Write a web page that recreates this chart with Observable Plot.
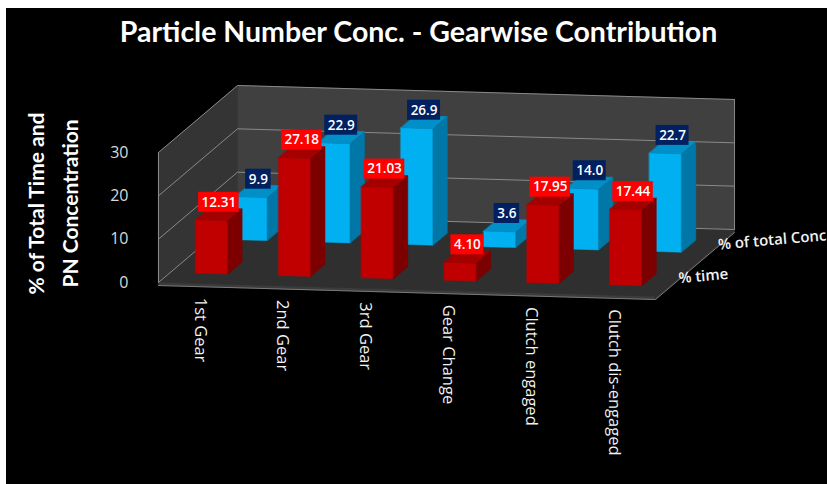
<!DOCTYPE html>
<html>
<head>
<meta charset="utf-8">
<script src="https://cdn.jsdelivr.net/npm/d3@7"></script>
<script src="https://cdn.jsdelivr.net/npm/@observablehq/plot@0.6"></script>
<style>
  html, body { margin: 0; padding: 0; background: #fff; }
  #chart { position: absolute; left: 6px; top: 8px; width: 821px; height: 476px; background: #000; overflow: hidden; }
  #title { position: relative; top: 6px; height: 50px; line-height: 50px; text-align: center; color: #fff; font: bold 28.5px Lato, "Open Sans", sans-serif; padding-left: 4px; white-space: nowrap; }
  #chart svg { display: block; }
</style>
</head>
<body>
<div id="chart"><div id="title">Particle Number Conc. - Gearwise Contribution</div></div>
<script>
// ---- data ----
const categories = ["1st Gear", "2nd Gear", "3rd Gear", "Gear Change", "Clutch engaged", "Clutch dis-engaged"];
const series = ["% time", "% of total Conc"];
const pctTime = [12.31, 27.18, 21.03, 4.10, 17.95, 17.44];
const pctConc = [9.9, 22.9, 26.9, 3.6, 14.0, 22.7];
const timeLabels = ["12.31", "27.18", "21.03", "4.10", "17.95", "17.44"];
const concLabels = ["9.9", "22.9", "26.9", "3.6", "14.0", "22.7"];
const yTicks = [0, 10, 20, 30];
const yMax = 30;

// ---- oblique 3D projection (category u, depth w, value v) ----
const KX = 0.954, KY = 15.46, KS = 0.538;
const P = (u, w, v) => ({x: u + w * KX, y: v + w * KY - u * KS});
const N = categories.length;
const BW = 0.39, BD = 0.18;
const XD = [0, N], XR = [152, 649], YD = [0, yMax], YR = [224, 94];
const xs = d3.scaleLinear(XD, XR), ys = d3.scaleLinear(YD, YR);

const rows = [
  {name: series[0], values: pctTime, labels: timeLabels, w0: 0.15,
   front: "#c00000", top: "#a40000", side: "#7c0000", box: "#ff0000"},
  {name: series[1], values: pctConc, labels: concLabels, w0: 0.65,
   front: "#00b0f0", top: "#008fc6", side: "#0077a6", box: "#002060"}
];

function poly(out, id, fill, pts) { pts.forEach(p => out.push({id, fill, ...P(...p)})); }

function barFaces(row) {
  const out = [];
  row.values.forEach((v, i) => {
    const u0 = i + 0.5 - BW / 2, u1 = i + 0.5 + BW / 2, w0 = row.w0, w1 = row.w0 + BD;
    poly(out, `${row.name}-${i}-front`, row.front, [[u0, w0, 0], [u1, w0, 0], [u1, w0, v], [u0, w0, v]]);
    poly(out, `${row.name}-${i}-top`, row.top, [[u0, w0, v], [u1, w0, v], [u1, w1, v], [u0, w1, v]]);
    poly(out, `${row.name}-${i}-side`, row.side, [[u1, w0, 0], [u1, w1, 0], [u1, w1, v], [u1, w0, v]]);
  });
  return out;
}

const T = -0.7; // floor slab thickness
const walls = [];
poly(walls, "floor", "#2f2f2f", [[0, 0, 0], [N, 0, 0], [N, 1, 0], [0, 1, 0]]);
poly(walls, "slabF", "#3c3c3c", [[0, 0, 0], [N, 0, 0], [N, 0, T], [0, 0, T]]);
poly(walls, "slabR", "#353535", [[N, 0, 0], [N, 1, 0], [N, 1, T], [N, 0, T]]);
poly(walls, "left", "#343434", [[0, 0, 0], [0, 1, 0], [0, 1, yMax], [0, 0, yMax]]);
poly(walls, "back", "#404040", [[0, 1, 0], [N, 1, 0], [N, 1, yMax], [0, 1, yMax]]);

const grid = [];
yTicks.forEach(v => poly(grid, "g" + v, "#8a8a8a", [[0, 0, v], [0, 1, v], [N, 1, v]]));
poly(grid, "e1", "#8a8a8a", [[0, 0, 0], [0, 0, yMax]]);
poly(grid, "e2", "#8a8a8a", [[N, 1, 0], [N, 1, yMax]]);
poly(grid, "e3", "#7a7a7a", [[0, 0, T], [N, 0, T], [N, 1, T]]);

const LABEL_RISE = 12;
const labelData = rows.flatMap(row => row.values.map((v, i) => {
  const a = P(i + 0.5, row.w0 + BD / 2, v);
  const ax = xs(a.x), ay = ys(a.y) - LABEL_RISE;
  const text = row.labels[i];
  const hw = (7.5 * text.length + 3) / 2;
  return {text, box: row.box, x: xs.invert(ax), y: ys.invert(ay),
          x1: xs.invert(ax - hw), x2: xs.invert(ax + hw), y1: ys.invert(ay + 10), y2: ys.invert(ay - 10)};
}));

const catPos = categories.map((c, i) => ({c, ...P(i + 0.5, 0, T)}));
const seriesPos = series.map((s, k) => ({s, ...P(N, rows[k].w0 + BD / 2, 0)}));

const chart = Plot.plot({
  width: 821,
  height: 426,
  marginLeft: 130, marginTop: 0, marginRight: 0, marginBottom: 0,
  style: {background: "transparent", color: "#d9d9d9", fontFamily: "'Open Sans', sans-serif", fontSize: "16px", overflow: "hidden"},
  x: {domain: XD, range: XR, axis: null},
  y: {domain: YD, range: YR, ticks: yTicks, tickSize: 0, tickPadding: 8, label: null},
  color: {type: "identity"},
  marks: [
    Plot.line(walls, {x: "x", y: "y", z: "id", fill: "fill", stroke: "fill", strokeWidth: 0.5, curve: "linear-closed"}),
    Plot.line(grid, {x: "x", y: "y", z: "id", stroke: "fill", strokeWidth: 1}),
    Plot.line(barFaces(rows[1]), {x: "x", y: "y", z: "id", fill: "fill", stroke: "fill", strokeWidth: 0.5, curve: "linear-closed"}),
    Plot.line(barFaces(rows[0]), {x: "x", y: "y", z: "id", fill: "fill", stroke: "fill", strokeWidth: 0.5, curve: "linear-closed"}),
    Plot.rect(labelData, {x1: "x1", x2: "x2", y1: "y1", y2: "y2", fill: "box"}),
    Plot.text(labelData, {x: "x", y: "y", text: "text", fill: "#ffffff", fontSize: 13.5, fontWeight: 600}),
    Plot.text(catPos, {x: "x", y: "y", text: "c", rotate: 90, textAnchor: "start", dy: 11, fill: "#f2f2f2", fontSize: 16.5}),
    Plot.text(seriesPos, {x: "x", y: "y", text: "s", rotate: -5, textAnchor: "start", dx: 4, dy: -2, fill: "#f2f2f2", fontSize: 15, fontWeight: 600}),
    Plot.text(["% of Total Time and\nPN Concentration"], {frameAnchor: "top-left", dx: -116, dy: 145, rotate: -90, textAnchor: "middle", lineHeight: 1.6, fill: "#ffffff", fontSize: 21, fontWeight: "bold", fontFamily: "Lato, 'Open Sans', sans-serif"})
  ]
});
document.getElementById("chart").appendChild(chart);
</script>
</body>
</html>
